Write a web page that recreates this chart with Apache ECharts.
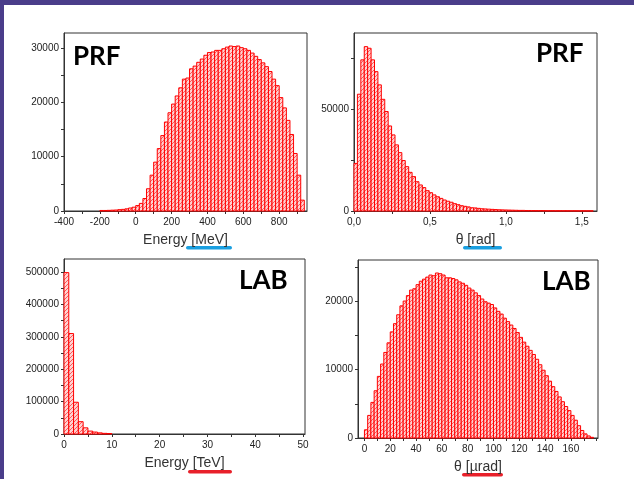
<!DOCTYPE html>
<html lang="en">
<head>
    <meta charset="UTF-8">
    <title>prf-lab</title>
    <script src="https://cdn.jsdelivr.net/npm/echarts@6.0.0/dist/echarts.min.js"></script>
</head>
<body style="margin:0;background:#fff">
<div id="main" style="width:634px;height:479px;"></div>
<script>
    // PRF energy histogram, 20 MeV bins starting at -200
    var prfEnergyStart = -200, prfEnergyStep = 20;
    var prfEnergy = [100, 100, 120, 150, 180, 250, 300, 400, 550, 700,
        1000, 1400, 2300, 4100, 6600, 9000, 11500, 13900, 16400, 18100,
        19700, 21200, 22700, 24300, 24500, 26200, 26700, 27400, 28000, 28700,
        29200, 29300, 29600, 29600, 29900, 30200, 30400, 30300, 30400, 30100,
        29900, 29600, 29100, 28500, 27900, 27300, 26600, 25700, 24300, 23100,
        20900, 19000, 16700, 14100, 10600, 6600, 2000];
    // PRF angle histogram [rad]
    var prfThetaStart = 0, prfThetaStep = 0.0225;
    var prfTheta = [23400, 57400, 74300, 80800, 80000, 74300, 68500, 62000, 54900, 48900,
        41800, 37400, 32500, 28700, 24800, 21800, 19000, 16900, 14400, 12800,
        11500, 10000, 9000, 7900, 7000, 6200, 5400, 4800, 4300, 3600,
        3100, 2600, 2300, 2000, 1600, 1500, 1300, 1100, 1000, 900,
        800, 700, 600, 550, 500, 450, 400, 350, 300, 300,
        250, 250, 200, 200, 200, 180, 160, 150, 140, 130,
        120, 120, 110, 100, 100, 90, 90, 80, 80, 70];
    // LAB energy histogram [TeV]
    var labEnergyStart = 0, labEnergyStep = 1;
    var labEnergy = [498000, 310000, 98000, 38000, 19000, 9000, 6000, 3500, 2000, 1500];
    // LAB angle histogram [µrad]
    var labThetaStart = 0, labThetaStep = 2.5;
    var labTheta = [1200, 3300, 5200, 6900, 9000, 10800, 12500, 13900, 15500, 16700,
        18000, 19300, 20000, 20800, 21600, 21800, 22400, 22900, 23200, 23500,
        23800, 23700, 24100, 24000, 23800, 23400, 23400, 23300, 23100, 22800,
        22600, 22300, 21900, 21600, 21200, 20800, 20300, 19900, 19700, 19500,
        19000, 18500, 18100, 17500, 17000, 16500, 16000, 15400, 14700, 14000,
        13400, 12800, 12200, 11500, 10700, 9900, 9100, 8300, 7500, 6800,
        6000, 5300, 4600, 4000, 3300, 2600, 1800, 1100, 600, 300, 100];

    // tick labels and tick marks
    var prfEnergyLabels = [-400, -200, 0, 200, 400, 600, 800];
    var prfEnergyTicks = [-400, -300, -200, -100, 0, 100, 200, 300, 400, 500, 600, 700, 800, 900];
    var prfEnergyCountLabels = [0, 10000, 20000, 30000];
    var prfEnergyCountTicks = [0, 5000, 10000, 15000, 20000, 25000, 30000];
    var prfThetaLabels = [0, 0.5, 1, 1.5];
    var prfThetaTicks = [0, 0.25, 0.5, 0.75, 1, 1.25, 1.5];
    var prfThetaCountLabels = [0, 50000];
    var prfThetaCountTicks = [0, 25000, 50000, 75000];
    var labEnergyLabels = [0, 10, 20, 30, 40, 50];
    var labEnergyTicks = [0, 5, 10, 15, 20, 25, 30, 35, 40, 45, 50];
    var labEnergyCountLabels = [0, 100000, 200000, 300000, 400000, 500000];
    var labEnergyCountTicks = [0, 50000, 100000, 150000, 200000, 250000, 300000, 350000, 400000, 450000, 500000];
    var labThetaLabels = [0, 20, 40, 60, 80, 100, 120, 140, 160];
    var labThetaTicks = [0, 10, 20, 30, 40, 50, 60, 70, 80, 90, 100, 110, 120, 130, 140, 150, 160, 170, 180];
    var labThetaCountLabels = [0, 10000, 20000];
    var labThetaCountTicks = [0, 5000, 10000, 15000, 20000, 25000];

    function bins(start, step, counts) {
        return counts.map(function (c, i) {
            return [start + i * step, start + (i + 1) * step, c];
        });
    }

    // hatch fill like the origin plot
    var pat = document.createElement('canvas');
    pat.width = 4;
    pat.height = 4;
    var g = pat.getContext('2d');
    g.fillStyle = '#ffd2d2';
    g.fillRect(0, 0, 4, 4);
    g.fillStyle = '#ff5a5a';
    for (var i = 0; i < 4; i++) {
        g.fillRect(i, 3 - i, 1, 1);
    }
    var hatch = {image: pat, repeat: 'repeat'};

    function renderBar(params, api) {
        var p0 = api.coord([api.value(0), api.value(2)]);
        var p1 = api.coord([api.value(1), 0]);
        return {
            type: 'rect',
            shape: {x: p0[0], y: p0[1], width: p1[0] - p0[0], height: p1[1] - p0[1]},
            style: {fill: hatch, stroke: '#ff0000', lineWidth: 1}
        };
    }

    function plain(v) {
        return String(v);
    }

    var font = 'Liberation Sans';
    var grids = [], xAxes = [], yAxes = [], series = [];

    function panel(box, xo, yo, data) {
        var idx = grids.length;
        grids.push({left: box[0], top: box[1], width: box[2], height: box[3],
            show: true, borderColor: '#333', borderWidth: 1, backgroundColor: '#fff'});
        xAxes.push({
            gridIndex: idx, type: 'value', min: xo.min, max: xo.max,
            name: xo.name, nameLocation: 'middle', nameGap: 22,
            nameTextStyle: {fontSize: 14, color: '#333', fontFamily: font},
            axisLine: {show: true, onZero: false, lineStyle: {color: '#333'}},
            axisTick: {show: true, customValues: xo.ticks, length: 3, lineStyle: {color: '#333'}},
            axisLabel: {customValues: xo.labels, fontSize: 10, color: '#222', margin: 6,
                fontFamily: font, formatter: xo.fmt || plain},
            splitLine: {show: false}
        });
        yAxes.push({
            gridIndex: idx, type: 'value', min: 0, max: yo.max,
            axisLine: {show: true, onZero: false, lineStyle: {color: '#333'}},
            axisTick: {show: true, customValues: yo.ticks, length: 3, lineStyle: {color: '#333'}},
            axisLabel: {customValues: yo.labels, fontSize: 10, color: '#222', margin: 5,
                fontFamily: font, formatter: plain},
            splitLine: {show: false}
        });
        series.push({
            type: 'custom', xAxisIndex: idx, yAxisIndex: idx,
            renderItem: renderBar, encode: {x: [0, 1], y: 2},
            data: data, silent: true
        });
    }

    panel([64, 33, 243, 178],
        {min: -400, max: 955, name: 'Energy [MeV]', labels: prfEnergyLabels, ticks: prfEnergyTicks},
        {max: 32800, labels: prfEnergyCountLabels, ticks: prfEnergyCountTicks},
        bins(prfEnergyStart, prfEnergyStep, prfEnergy));
    panel([354, 33, 243, 178],
        {min: 0, max: 1.6, name: 'θ [rad]', labels: prfThetaLabels, ticks: prfThetaTicks,
            fmt: function (v) { return v.toFixed(1).replace('.', ','); }},
        {max: 87500, labels: prfThetaCountLabels, ticks: prfThetaCountTicks},
        bins(prfThetaStart, prfThetaStep, prfTheta));
    panel([64, 259, 241, 175],
        {min: 0, max: 50.4, name: 'Energy [TeV]', labels: labEnergyLabels, ticks: labEnergyTicks},
        {max: 540000, labels: labEnergyCountLabels, ticks: labEnergyCountTicks},
        bins(labEnergyStart, labEnergyStep, labEnergy));
    panel([358, 260, 240, 178],
        {min: -5, max: 181, name: 'θ [µrad]', labels: labThetaLabels, ticks: labThetaTicks},
        {max: 26000, labels: labThetaCountLabels, ticks: labThetaCountTicks},
        bins(labThetaStart, labThetaStep, labTheta));

    var tagStyle = {fill: '#000', font: 'bold 26px Lato'};
    var chart = echarts.init(document.getElementById('main'));
    chart.setOption({
        backgroundColor: '#fff',
        animation: false,
        grid: grids,
        xAxis: xAxes,
        yAxis: yAxes,
        series: series,
        graphic: [
            {type: 'rect', shape: {x: 0, y: 0, width: 634, height: 5}, style: {fill: '#4a3d8a'}},
            {type: 'rect', shape: {x: 0, y: 0, width: 4, height: 479}, style: {fill: '#4a3d8a'}},
            {type: 'text', x: 73, y: 57, style: Object.assign({text: 'PRF', verticalAlign: 'middle'}, tagStyle), z: 10},
            {type: 'text', x: 536, y: 54, style: Object.assign({text: 'PRF', verticalAlign: 'middle'}, tagStyle), z: 10},
            {type: 'text', x: 239, y: 281, style: Object.assign({text: 'LAB', verticalAlign: 'middle'}, tagStyle), z: 10},
            {type: 'text', x: 542, y: 282, style: Object.assign({text: 'LAB', verticalAlign: 'middle'}, tagStyle), z: 10},
            {type: 'rect', shape: {x: 186, y: 246, width: 46, height: 3.5, r: 1.7}, style: {fill: '#1a9fe0'}},
            {type: 'rect', shape: {x: 463, y: 246, width: 39, height: 3.5, r: 1.7}, style: {fill: '#1a9fe0'}},
            {type: 'rect', shape: {x: 188, y: 470, width: 44, height: 3.5, r: 1.7}, style: {fill: '#e8202a'}},
            {type: 'rect', shape: {x: 462, y: 473, width: 41, height: 3.5, r: 1.7}, style: {fill: '#e8202a'}}
        ]
    });
</script>
</body>
</html>
